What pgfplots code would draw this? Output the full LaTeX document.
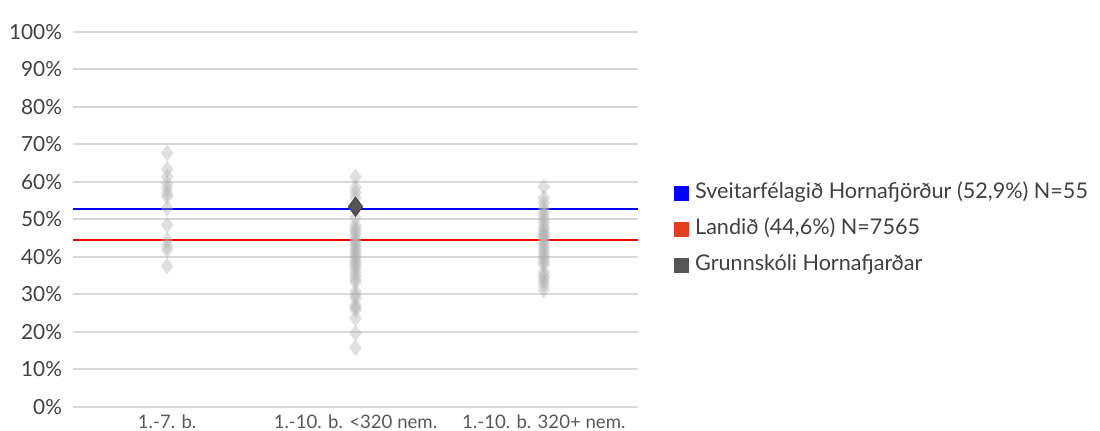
\documentclass[border=0pt]{standalone}
\usepackage{fontspec}
\setmainfont{Lato}
\usepackage{pgfplots}
\pgfplotsset{compat=1.18}
\definecolor{gridc}{HTML}{D9D9D9}
\definecolor{txt}{HTML}{404040}
\definecolor{xtxt}{HTML}{595959}
\definecolor{darkpt}{HTML}{555555}
\definecolor{legred}{HTML}{E0401C}
\definecolor{lineblue}{HTML}{0000F0}
\definecolor{linered}{HTML}{F00000}
\begin{document}
\begin{tikzpicture}
\path[use as bounding box] (-36.5pt,-12pt) rectangle (513.5pt,203.5pt);
\begin{axis}[
  at={(0,0)}, anchor=south west,
  scale only axis, width=282.5pt, height=187.5pt,
  xmin=-0.5, xmax=2.5, ymin=0, ymax=100,
  axis line style={draw=none},
  major tick length=0pt,
  ytick={0,10,...,100},
  yticklabel={\pgfmathprintnumber{\tick}\%},
  xtick={0,1,2},
  xticklabels={1.-7. b., 1.-10. b. <320 nem., 1.-10. b. 320+ nem.},
  /pgf/number format/assume math mode=true,
  yticklabel style={font=\fontsize{10.4}{12}\selectfont, text=txt, anchor=east, xshift=-2pt},
  xticklabel style={font=\fontsize{9.3}{11}\selectfont, text=xtxt, anchor=north, yshift=-0.5pt},
  ymajorgrids, grid style={gridc, line width=1pt},
  clip=false,
  legend style={draw=none, fill=none, at={(1.064,0.597)}, anchor=north west,
    inner sep=0pt, outer sep=0pt, row sep=8pt,
    font=\fontsize{10.8}{12}\selectfont, text=txt,
    nodes={inner sep=0pt, text height=7.5pt, text depth=2.5pt, anchor=west}},
  legend cell align=left,
]
\addplot[lineblue, line width=1pt,
  legend image code/.code={\fill[blue, draw=none] (0pt,-3.75pt) rectangle (7.5pt,3.75pt); \path[draw=none] (0pt,0pt) -- (10.5pt,0pt);}]
  coordinates {(-0.5,52.9) (2.5,52.9)};
\addlegendentry{Sveitarfélagið Hornafjörður (52,9\%) N=55}
\addplot[linered, line width=1pt,
  legend image code/.code={\fill[legred, draw=none] (0pt,-3.75pt) rectangle (7.5pt,3.75pt); \path[draw=none] (0pt,0pt) -- (10.5pt,0pt);}]
  coordinates {(-0.5,44.6) (2.5,44.6)};
\addlegendentry{Landið (44,6\%) N=7565}
\addplot[only marks, mark=diamond*, mark size=4.2pt, draw=none, draw opacity=0,
  mark options={draw=none, draw opacity=0, fill=black!30, fill opacity=0.4}, forget plot]
  table[row sep=\\] {
x y\\
0 67.7\\ 0 63.4\\ 0 61.4\\ 0 59.6\\ 0 58.3\\ 0 57.0\\ 0 56.1\\ 0 53.0\\ 0 48.5\\ 0 44.5\\ 0 42.9\\ 0 41.9\\ 0 37.6\\
1 61.4\\ 1 58.5\\ 1 57.2\\ 1 55.8\\ 1 50.4\\ 1 48.5\\ 1 47.5\\ 1 46.8\\ 1 46.0\\ 1 45.0\\ 1 44.2\\ 1 43.5\\ 1 42.8\\ 1 42.0\\ 1 41.3\\ 1 40.5\\ 1 40.0\\ 1 39.2\\ 1 38.5\\ 1 37.8\\ 1 37.0\\ 1 36.0\\ 1 35.0\\ 1 34.0\\ 1 33.3\\ 1 30.8\\ 1 29.8\\ 1 29.0\\ 1 27.2\\ 1 26.5\\ 1 25.9\\ 1 23.7\\ 1 19.7\\ 1 15.8\\
2 58.7\\ 2 55.7\\ 2 54.4\\ 2 53.0\\ 2 52.0\\ 2 51.0\\ 2 50.0\\ 2 49.0\\ 2 48.0\\ 2 47.3\\ 2 46.5\\ 2 46.0\\ 2 45.5\\ 2 45.0\\ 2 44.3\\ 2 43.5\\ 2 42.7\\ 2 42.0\\ 2 41.0\\ 2 40.2\\ 2 39.5\\ 2 38.6\\ 2 37.9\\ 2 36.0\\ 2 35.0\\ 2 34.4\\ 2 33.5\\ 2 32.5\\ 2 31.2\\
};
\addplot[only marks, mark=diamond*, mark size=4.8pt,
  mark options={draw=darkpt!80!black, line width=0.4pt, fill=darkpt},
  legend image code/.code={\fill[darkpt, draw=none] (0pt,-3.75pt) rectangle (7.5pt,3.75pt); \path[draw=none] (0pt,0pt) -- (10.5pt,0pt);}]
  coordinates {(1,53.4)};
\addlegendentry{Grunnskóli Hornafjarðar}
\end{axis}
\end{tikzpicture}
\end{document}
